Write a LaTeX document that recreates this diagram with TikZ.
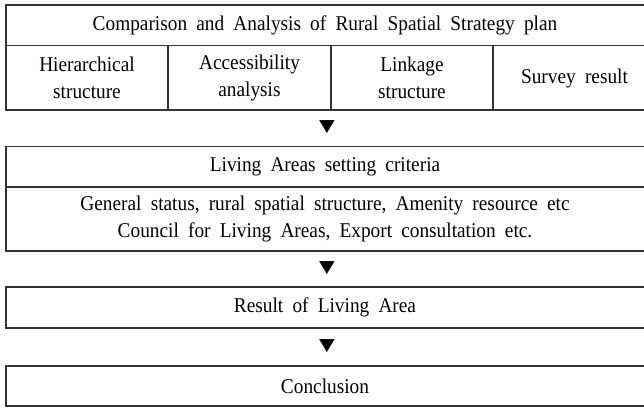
\documentclass[tikz,border=0pt]{standalone}
\usepackage{fontspec}
\newfontfamily\figfont[WordSpace=1.9,FakeStretch=0.92]{Liberation Serif}
\newfontfamily\symfont{DejaVu Sans}
\tikzset{
  boxline/.style={line width=1.2pt, color=black!80},
  label/.style={font=\figfont\fontsize{21}{27}\selectfont, align=center, inner sep=0pt},
  tri/.style={font=\symfont\fontsize{17}{17}\selectfont, inner sep=0pt, xscale=1.2, transform shape}
}
\begin{document}
\begin{tikzpicture}[x=1pt,y=-1pt]
\useasboundingbox (0,0) rectangle (644,408);

% comparison table
\draw[boxline] (644,5) -- (6,5) -- (6,110) -- (644,110);
\draw[boxline] (6,45.5) -- (644,45.5);
\draw[boxline] (168,45.5) -- (168,110);
\draw[boxline] (331,45.5) -- (331,110);
\draw[boxline] (493,45.5) -- (493,110);

\node[label] (comp) at (325,25) {Comparison and Analysis of Rural Spatial Strategy plan};
\node[label] (hier) at (87,78) {Hierarchical\\structure};
\node[label] (acc) at (249.5,78) {Accessibility\\analysis};
\node[label] (link) at (412,78) {Linkage\\structure};
\node[label] (surv) at (574.5,78) {Survey result};

\node[tri] (t1) at (327,127) {▼};

% setting criteria
\draw[boxline] (644,146.5) -- (6,146.5) -- (6,251) -- (644,251);
\draw[boxline] (6,187) -- (644,187);
\node[label] (crit) at (325,166.5) {Living Areas setting criteria};
\node[label] (stat) at (325,219) {General status, rural spatial structure, Amenity resource etc\\Council for Living Areas, Export consultation etc.};

\node[tri] (t2) at (327,268) {▼};

% result
\draw[boxline] (644,287) -- (6,287) -- (6,328) -- (644,328);
\node[label] (res) at (325,307.5) {Result of Living Area};

\node[tri] (t3) at (327,346) {▼};

% conclusion
\draw[boxline] (644,366) -- (6,366) -- (6,406) -- (644,406);
\node[label] (conc) at (325,386) {Conclusion};
\end{tikzpicture}
\end{document}
